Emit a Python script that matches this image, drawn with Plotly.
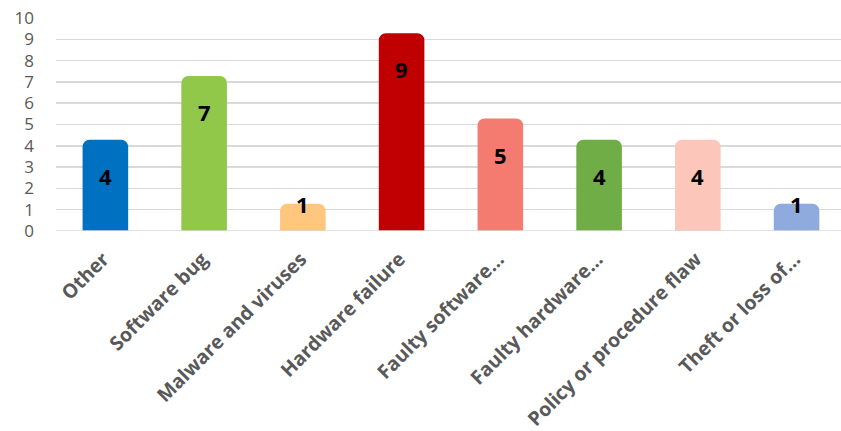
import plotly.graph_objects as go

categories = ["Other", "Software bug", "Malware and viruses", "Hardware failure",
              "Faulty software…", "Faulty hardware…", "Policy or procedure flaw",
              "Theft or loss of…"]
values = [4, 7, 1, 9, 5, 4, 4, 1]
colors = ["#0070C0", "#92C84A", "#FFC77D", "#C00000",
          "#F47B70", "#70AD47", "#FCC6BA", "#8FAADC"]
y_ticks = list(range(0, 11))

fig = go.Figure()
fig.add_trace(go.Bar(
    x=categories, y=values,
    marker=dict(color=colors, line=dict(color=colors, width=12), cornerradius=1),
    width=0.34,
    hoverinfo="skip",
))

for c, v in zip(categories, values):
    fig.add_annotation(
        x=c, y=v, text=f"<b>{v}</b>", showarrow=False,
        yanchor="middle", yshift=(-30 if v >= 2 else 6),
        font=dict(family="Open Sans", size=22, color="#000000"),
    )

fig.add_shape(type="line", xref="paper", yref="y", x0=0, x1=1, y0=0, y1=0,
              line=dict(color="#D9D9D9", width=1.5), layer="above")

fig.update_layout(
    width=841, height=431,
    margin=dict(l=56, r=0, t=18, b=200),
    paper_bgcolor="white", plot_bgcolor="white",
    showlegend=False,
    xaxis=dict(
        type="category", range=[-0.5, 7.45], automargin=False,
        tickangle=-45, showgrid=False, showline=False, ticks="",
        tickfont=dict(family="Open Sans", size=19.5, color="#595959", weight="bold"),
        ticklabelstandoff=12, ticklabelshift=-2,
    ),
    yaxis=dict(
        range=[0, 10], tickvals=y_ticks, showgrid=True, gridcolor="#D9D9D9",
        gridwidth=1.5, zeroline=False, showline=False, ticks="", automargin=False,
        tickfont=dict(family="Open Sans", size=17, color="#595959"),
        ticklabelstandoff=21,
    ),
)

fig.write_html(
    "out.html",
    config={"displayModeBar": False, "staticPlot": True},
    post_script="document.body.style.margin='0px';document.body.style.overflow='hidden';",
)
